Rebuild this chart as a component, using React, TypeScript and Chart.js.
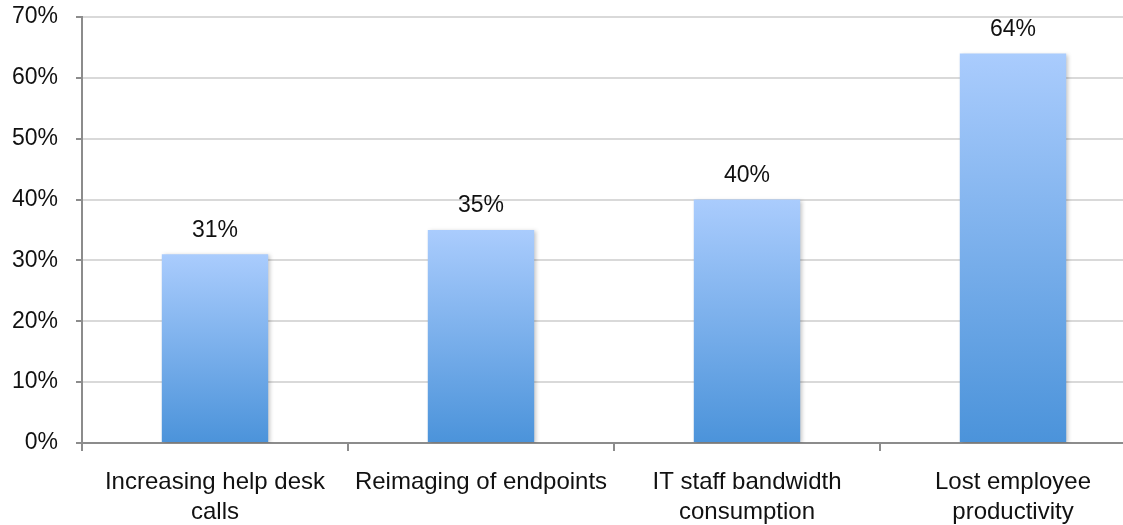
import React, { useEffect, useRef } from "react";
import { Chart, registerables } from "chart.js";

Chart.register(...registerables);

const categories: string[][] = [
  ["Increasing help desk", "calls"],
  ["Reimaging of endpoints"],
  ["IT staff bandwidth", "consumption"],
  ["Lost employee", "productivity"],
];
const values: number[] = [31, 35, 40, 64];
const yTicks: number[] = [0, 10, 20, 30, 40, 50, 60, 70];

const FONT = '"Liberation Sans", Arial, Helvetica, sans-serif';
const AXIS = "#8c8c8c";
const GRID = "#d9d9d9";

const valueLabels = {
  id: "valueLabels",
  afterDatasetsDraw(chart: any) {
    const ctx = chart.ctx;
    const meta = chart.getDatasetMeta(0);
    ctx.save();
    ctx.font = `23px ${FONT}`;
    ctx.fillStyle = "#111";
    ctx.textAlign = "center";
    ctx.textBaseline = "middle";
    meta.data.forEach((bar: any, i: number) => {
      ctx.fillText(`${values[i]}%`, bar.x, bar.y - 24);
    });
    ctx.restore();
  },
};

const barShadow = {
  id: "barShadow",
  beforeDatasetsDraw(chart: any) {
    const ctx = chart.ctx;
    ctx.save();
    ctx.shadowColor = "rgba(0,0,0,0.22)";
    ctx.shadowBlur = 4;
    ctx.shadowOffsetX = 2;
    ctx.shadowOffsetY = 1;
  },
  afterDatasetsDraw(chart: any) {
    chart.ctx.restore();
  },
};

export default function App() {
  const ref = useRef<HTMLCanvasElement | null>(null);

  useEffect(() => {
    if (!ref.current) return;
    const chart = new Chart(ref.current, {
      type: "bar",
      data: {
        labels: categories,
        datasets: [
          {
            data: values,
            barPercentage: 0.4,
            categoryPercentage: 1,
            borderWidth: 0,
            backgroundColor: (c: any) => {
              const ch = c.chart;
              const area = ch.chartArea;
              if (!area || c.raw === undefined) return "#7fb0ec";
              const yScale = ch.scales.y;
              const top = yScale.getPixelForValue(c.raw);
              const g = ch.ctx.createLinearGradient(0, top, 0, area.bottom);
              g.addColorStop(0, "#aaccfd");
              g.addColorStop(1, "#4b93da");
              return g;
            },
          },
        ],
      },
      options: {
        animation: false,
        responsive: false,
        layout: { padding: { top: 17, right: 4, left: 0, bottom: 0 } },
        plugins: {
          legend: { display: false },
          tooltip: { enabled: false },
        },
        scales: {
          x: {
            grid: {
              drawOnChartArea: false,
              offset: true,
              tickLength: 8,
              tickColor: AXIS,
              lineWidth: 2,
            },
            border: { color: AXIS, width: 2 },
            ticks: {
              color: "#111",
              padding: 16,
              maxRotation: 0,
              autoSkip: false,
              font: { family: FONT, size: 24, lineHeight: 1.25 },
            },
            afterFit: (s: any) => {
              s.height = 82;
            },
          },
          y: {
            min: 0,
            max: 70,
            afterBuildTicks: (s: any) => {
              s.ticks = yTicks.map((v) => ({ value: v }));
            },
            grid: {
              color: GRID,
              lineWidth: 2,
              tickLength: 6,
              tickColor: AXIS,
            },
            border: { color: AXIS, width: 2 },
            ticks: {
              color: "#111",
              padding: 18,
              font: { family: FONT, size: 23 },
              callback: (v: any) => `${v}%`,
            },
            afterFit: (s: any) => {
              s.width = 82;
              s.paddingTop = 0;
              s.paddingBottom = 0;
            },
          },
        },
      },
      plugins: [barShadow, valueLabels],
    });
    return () => chart.destroy();
  }, []);

  return (
    <div
      style={{
        position: "absolute",
        left: 0,
        top: 0,
        width: 1123,
        height: 525,
        overflow: "hidden",
        background: "#fff",
      }}
    >
      <canvas ref={ref} width={1150} height={525} style={{ display: "block" }} />
    </div>
  );
}
